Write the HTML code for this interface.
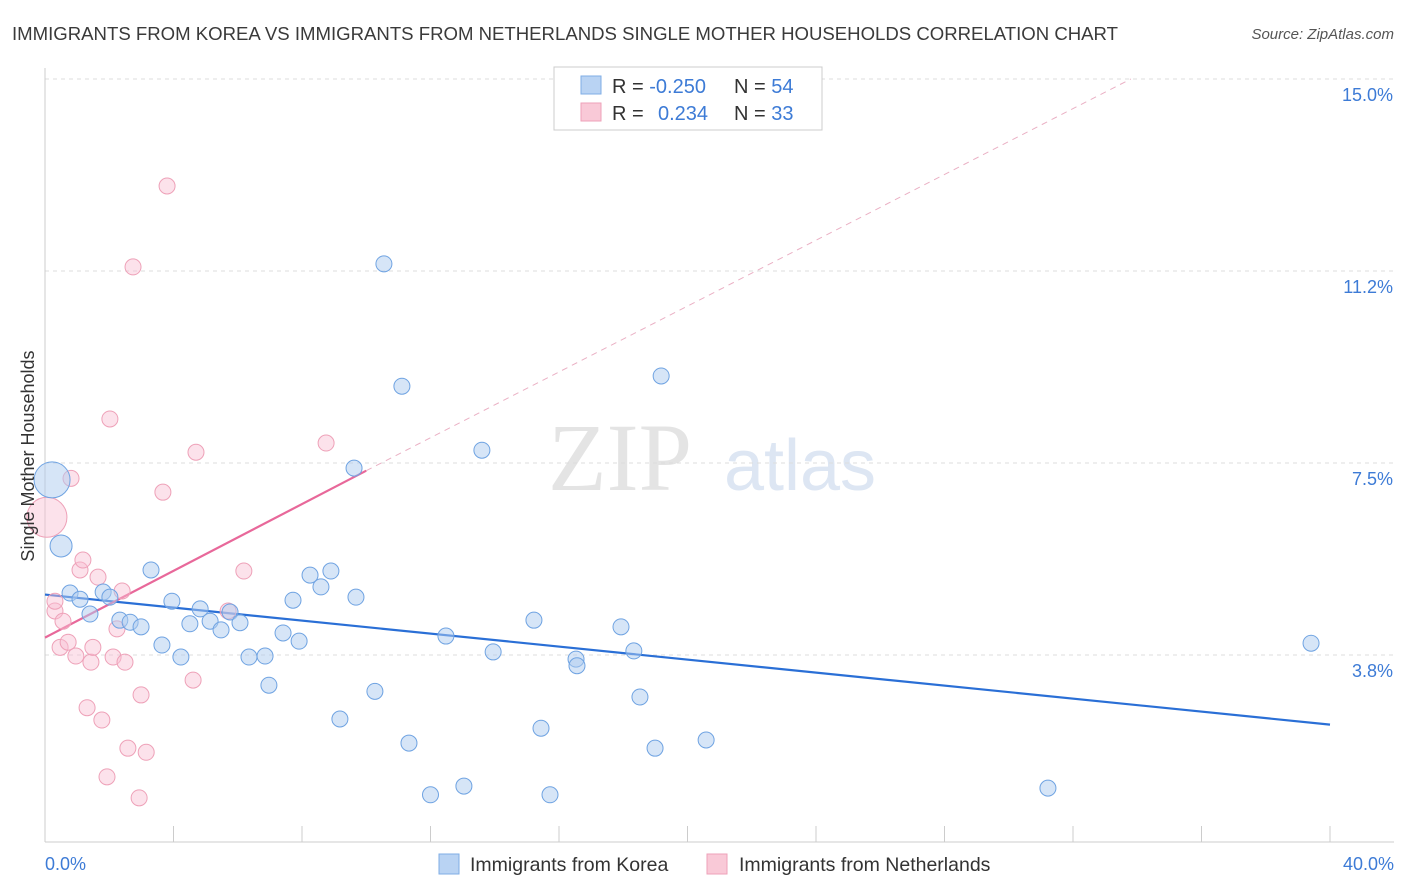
<!DOCTYPE html>
<html><head><meta charset="utf-8"><style>
body{margin:0;background:#fff;font-family:"Liberation Sans",sans-serif;}
svg{display:block}
</style></head><body>
<svg id="chart" width="1406" height="892" xmlns="http://www.w3.org/2000/svg">
<text x="12" y="40" font-size="18.6" fill="#3a3a3a" textLength="1106">IMMIGRANTS FROM KOREA VS IMMIGRANTS FROM NETHERLANDS SINGLE MOTHER HOUSEHOLDS CORRELATION CHART</text>
<text x="1394" y="39" font-size="15" fill="#555" font-style="italic" text-anchor="end">Source: ZipAtlas.com</text>
<text x="620" y="490" font-size="96" fill="#e4e4e4" font-family="Liberation Serif,serif" text-anchor="middle">ZIP</text>
<text x="800" y="490" font-size="72" fill="#dde6f3" text-anchor="middle">atlas</text>
<g id="grid"></g><g id="axes"></g><g id="trend"></g><g id="pts"></g>
<text x="34" y="456" font-size="18" fill="#333" text-anchor="middle" transform="rotate(-90 34 456)">Single Mother Households</text>
<text x="45" y="870" font-size="18" fill="#3d7bd6">0.0%</text>
<text x="1394" y="870" font-size="18" fill="#3d7bd6" text-anchor="end">40.0%</text>
<g>
<rect x="554" y="67" width="268" height="63" fill="#fff" stroke="#ccc"/>
<rect x="581" y="76" width="20" height="18" fill="#b9d3f3" stroke="#7faee6"/>
<rect x="581" y="103" width="20" height="18" fill="#f9c9d7" stroke="#eea1b8"/>
<text x="612" y="93" font-size="20" fill="#333">R = <tspan fill="#3d7bd6">-0.250</tspan></text>
<text x="734" y="93" font-size="20" fill="#333">N = <tspan fill="#3d7bd6">54</tspan></text>
<text x="612" y="120" font-size="20" fill="#333">R = <tspan fill="#3d7bd6" x="658">0.234</tspan></text>
<text x="734" y="120" font-size="20" fill="#333">N = <tspan fill="#3d7bd6">33</tspan></text>
</g>
<g><rect x="439" y="854" width="20" height="20" fill="#b9d3f3" stroke="#7faee6"/><text x="470" y="871" font-size="19.5" fill="#333">Immigrants from Korea</text></g>
<g><rect x="707" y="854" width="20" height="20" fill="#f9c9d7" stroke="#eea1b8"/><text x="739" y="871" font-size="19.5" fill="#333">Immigrants from Netherlands</text></g>
</svg>
<script>
const yTicks=[3.75,7.5,11.25,15];
const yTickLabels=["3.8%","7.5%","11.2%","15.0%"];
const xTicks=[0,4,8,12,16,20,24,28,32,36,40];
const koreaX=[0.22,0.5,0.78,1.09,1.4,1.81,2.02,2.33,2.65,2.99,3.3,3.64,3.95,4.23,4.51,4.83,5.14,5.48,5.76,6.07,6.35,6.85,6.97,7.41,7.72,7.91,8.25,8.59,8.9,9.18,9.68,9.62,10.27,10.55,11.11,11.33,12.0,12.48,13.04,13.6,13.95,15.22,15.44,15.72,16.53,16.56,17.93,18.33,18.52,18.99,19.18,20.58,31.22,39.41];
const koreaY=[7.17,5.88,4.96,4.84,4.55,4.98,4.88,4.43,4.39,4.3,5.41,3.945,4.8,3.71,4.36,4.65,4.41,4.24,4.59,4.38,3.71,3.73,3.16,4.18,4.82,4.02,5.31,5.08,5.39,2.5,4.88,7.4,3.04,11.39,9.0,2.03,1.02,4.12,1.19,7.75,3.81,4.43,2.32,1.02,3.67,3.54,4.30,3.83,2.93,1.93,9.2,2.09,1.15,3.98];
const koreaR=[18,11,8,8,8,8,8,8,8,8,8,8,8,8,8,8,8,8,8,8,8,8,8,8,8,8,8,8,8,8,8,8,8,8,8,8,8,8,8,8,8,8,8,8,8,8,8,8,8,8,8,8,8,8];
const nethX=[0.06,0.31,0.56,0.81,0.47,0.72,0.96,1.09,1.18,1.31,1.43,1.49,1.65,1.77,2.02,2.12,2.24,2.4,2.49,2.58,2.74,1.93,2.93,2.99,3.15,3.67,3.8,4.61,4.7,5.7,6.19,8.75,0.31];
const nethY=[6.44,4.61,4.41,7.2,3.9,4.0,3.73,5.41,5.605,2.72,3.61,3.9,5.27,2.48,8.36,3.71,4.26,5.0,3.61,1.93,11.33,1.37,0.96,2.97,1.85,6.93,12.91,3.26,7.71,4.61,5.39,7.89,4.8];
const nethR=[20,8,8,8,8,8,8,8,8,8,8,8,8,8,8,8,8,8,8,8,8,8,8,8,8,8,8,8,8,8,8,8,8];
const koreaTrend=[0,4.93,40,2.39];
const nethTrend=[0,4.09,10.0,7.35,33.8,15.0];
const X=v=>45+v*32.125, Y=v=>847-v*51.2;
const NS="http://www.w3.org/2000/svg";
function mk(tag,attrs,parent){const e=document.createElementNS(NS,tag);for(const k in attrs)e.setAttribute(k,attrs[k]);document.getElementById(parent).appendChild(e);return e;}
yTicks.forEach((t,i)=>{
 const l=mk('line',{x1:45,x2:1394,y1:Y(t),y2:Y(t),stroke:'#ddd','stroke-dasharray':'4,4'},'grid');
 
 
 const tx=mk('text',{x:1393,y:Y(t)+22,'font-size':18,fill:'#3d7bd6','text-anchor':'end'},'grid');
 tx.textContent=yTickLabels[i];
 
 
});
const ax=mk('line',{x1:45,x2:1394,y1:842,y2:842,stroke:'#ccc'},'axes');


const ay=mk('line',{x1:45,x2:45,y1:68,y2:842,stroke:'#ccc'},'axes');


xTicks.forEach(t=>{
 const l=mk('line',{x1:X(t),x2:X(t),y1:826,y2:842,stroke:'#ccc'},'axes');
 
 
});
const kt=mk('line',{x1:X(koreaTrend[0]),y1:Y(koreaTrend[1]),x2:X(koreaTrend[2]),y2:Y(koreaTrend[3]),stroke:'#2a6fd6','stroke-width':2.2},'trend');


const nt=mk('line',{x1:X(nethTrend[0]),y1:Y(nethTrend[1]),x2:X(nethTrend[2]),y2:Y(nethTrend[3]),stroke:'#e8689a','stroke-width':2.2},'trend');


const nd=mk('line',{x1:X(nethTrend[2]),y1:Y(nethTrend[3]),x2:X(nethTrend[4]),y2:Y(nethTrend[5]),stroke:'#eab0c4','stroke-width':1,'stroke-dasharray':'6,5'},'trend');


nethX.forEach((v,i)=>{
 const c=mk('circle',{cx:X(v),cy:Y(nethY[i]),r:nethR[i],fill:'rgba(249,190,210,0.45)',stroke:'#eea1b8','stroke-width':1},'pts');
 
 
});
koreaX.forEach((v,i)=>{
 const c=mk('circle',{cx:X(v),cy:Y(koreaY[i]),r:koreaR[i],fill:'rgba(173,203,240,0.5)',stroke:'#6fa3e2','stroke-width':1},'pts');
 
 
});
</script>
</body></html>
